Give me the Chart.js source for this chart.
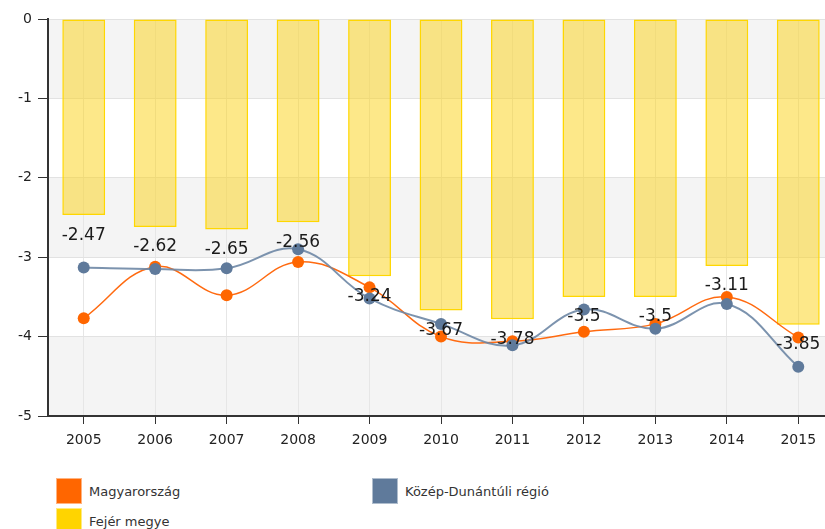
<!DOCTYPE html>
<html>
<head>
<meta charset="utf-8">
<script src="https://cdn.jsdelivr.net/npm/chart.js@4/dist/chart.umd.min.js"></script>
<style>
  html, body { margin: 0; padding: 0; background: #fff; overflow: hidden; }
  .wrap { position: relative; width: 840px; height: 460px; }
  .legend { position: absolute; left: 56px; top: 478px; display: grid; grid-template-columns: 316px auto; row-gap: 4px;
    font-family: 'DejaVu Sans', Verdana, sans-serif; font-size: 13px; color: #333; }
  .legend div { display: flex; align-items: center; height: 26px; }
  .legend span.box { width: 26px; height: 26px; margin-right: 7px; box-sizing: border-box; }
</style>
</head>
<body>
<div class="wrap"><canvas id="chart" width="840" height="460"></canvas></div>
<div class="legend" id="legend"></div>
<script>
// adatok
const years = ['2005', '2006', '2007', '2008', '2009', '2010', '2011', '2012', '2013', '2014', '2015']
const magyarorszag = [-3.77, -3.12, -3.48, -3.06, -3.38, -4.0, -4.06, -3.94, -3.84, -3.5, -4.01]
const kozepDunantul = [-3.13, -3.15, -3.14, -2.9, -3.52, -3.84, -4.11, -3.66, -3.9, -3.59, -4.38]
const fejer = [-2.47, -2.62, -2.65, -2.56, -3.24, -3.67, -3.78, -3.5, -3.5, -3.11, -3.85]

const font = "'DejaVu Sans', Verdana, sans-serif"

// szürke-fehér sávok a háttérben
const bands = {
	id: 'bands',
	beforeDraw(chart) {
		const { ctx, chartArea, scales: { y } } = chart
		ctx.save()
		for (let v = 0; v > -5; v--) {
			if (v % 2 === 0) {
				const top = y.getPixelForValue(v)
				const bottom = y.getPixelForValue(v - 1)
				ctx.fillStyle = '#f4f4f4'
				ctx.fillRect(chartArea.left, top, chartArea.right - chartArea.left, bottom - top)
			}
		}
		ctx.restore()
	}
}

// értékcímkék az oszlopok alatt
const barLabels = {
	id: 'barLabels',
	afterDatasetsDraw(chart) {
		const { ctx } = chart
		const idx = chart.data.datasets.findIndex(d => d.type === 'bar')
		const meta = chart.getDatasetMeta(idx)
		ctx.save()
		ctx.font = '17px ' + font
		ctx.fillStyle = '#1a1a1a'
		ctx.textAlign = 'center'
		ctx.textBaseline = 'middle'
		meta.data.forEach((bar, i) => {
			ctx.fillText(String(chart.data.datasets[idx].data[i]), bar.x, bar.y + 20)
		})
		ctx.restore()
	}
}

const chart = new Chart(document.getElementById('chart'), {
	data: {
		labels: years,
		datasets: [
			{
				type: 'line',
				label: 'Magyarország',
				data: magyarorszag,
				borderColor: '#ff6a10',
				backgroundColor: '#ff6600',
				borderWidth: 1.5,
				pointRadius: 6,
				pointBorderWidth: 0,
				tension: 0.4,
				order: 2,
			},
			{
				type: 'line',
				label: 'Közép-Dunántúli régió',
				data: kozepDunantul,
				borderColor: 'rgba(110,135,165,0.9)',
				backgroundColor: '#5f7a9b',
				borderWidth: 2,
				pointRadius: 6,
				pointBorderWidth: 0,
				tension: 0.4,
				order: 1,
			},
			{
				type: 'bar',
				label: 'Fejér megye',
				data: fejer,
				backgroundColor: 'rgba(252,210,20,0.5)',
				borderColor: '#ffd700',
				borderWidth: 1.5,
				borderSkipped: false,
				barPercentage: 0.6,
				categoryPercentage: 1,
				order: 3,
			}
		]
	},
	options: {
		responsive: false,
		animation: false,
		layout: { padding: { top: 19, right: 2, left: 0, bottom: 0 } },
		plugins: {
			legend: { display: false },
			tooltip: { enabled: false },
		},
		scales: {
			x: {
				offset: true,
				grid: { offset: false, color: '#e6e6e6', tickColor: '#333', tickLength: 8 },
				border: { color: '#333', width: 2 },
				ticks: { font: { family: font, size: 14 }, color: '#222', padding: 8, maxRotation: 0 },
				afterFit(scale) { scale.height = 44 },
			},
			y: {
				min: -5,
				max: 0,
				grid: { color: '#e2e2e2', tickColor: '#333', tickLength: 10 },
				border: { color: '#333', width: 2 },
				ticks: { stepSize: 1, font: { family: font, size: 14 }, color: '#222', padding: 6 },
				afterFit(scale) { scale.width = 48 },
			}
		}
	},
	plugins: [bands, barLabels]
})

// jelmagyarázat
const legendEl = document.getElementById('legend')
chart.data.datasets.forEach(ds => {
	const item = document.createElement('div')
	const box = document.createElement('span')
	box.className = 'box'
	box.style.background = ds.type === 'bar' ? '#ffd400' : ds.backgroundColor
	box.style.border = '1px solid rgba(255,255,255,0.5)'
	item.appendChild(box)
	item.appendChild(document.createTextNode(ds.label))
	legendEl.appendChild(item)
})
</script>
</body>
</html>
